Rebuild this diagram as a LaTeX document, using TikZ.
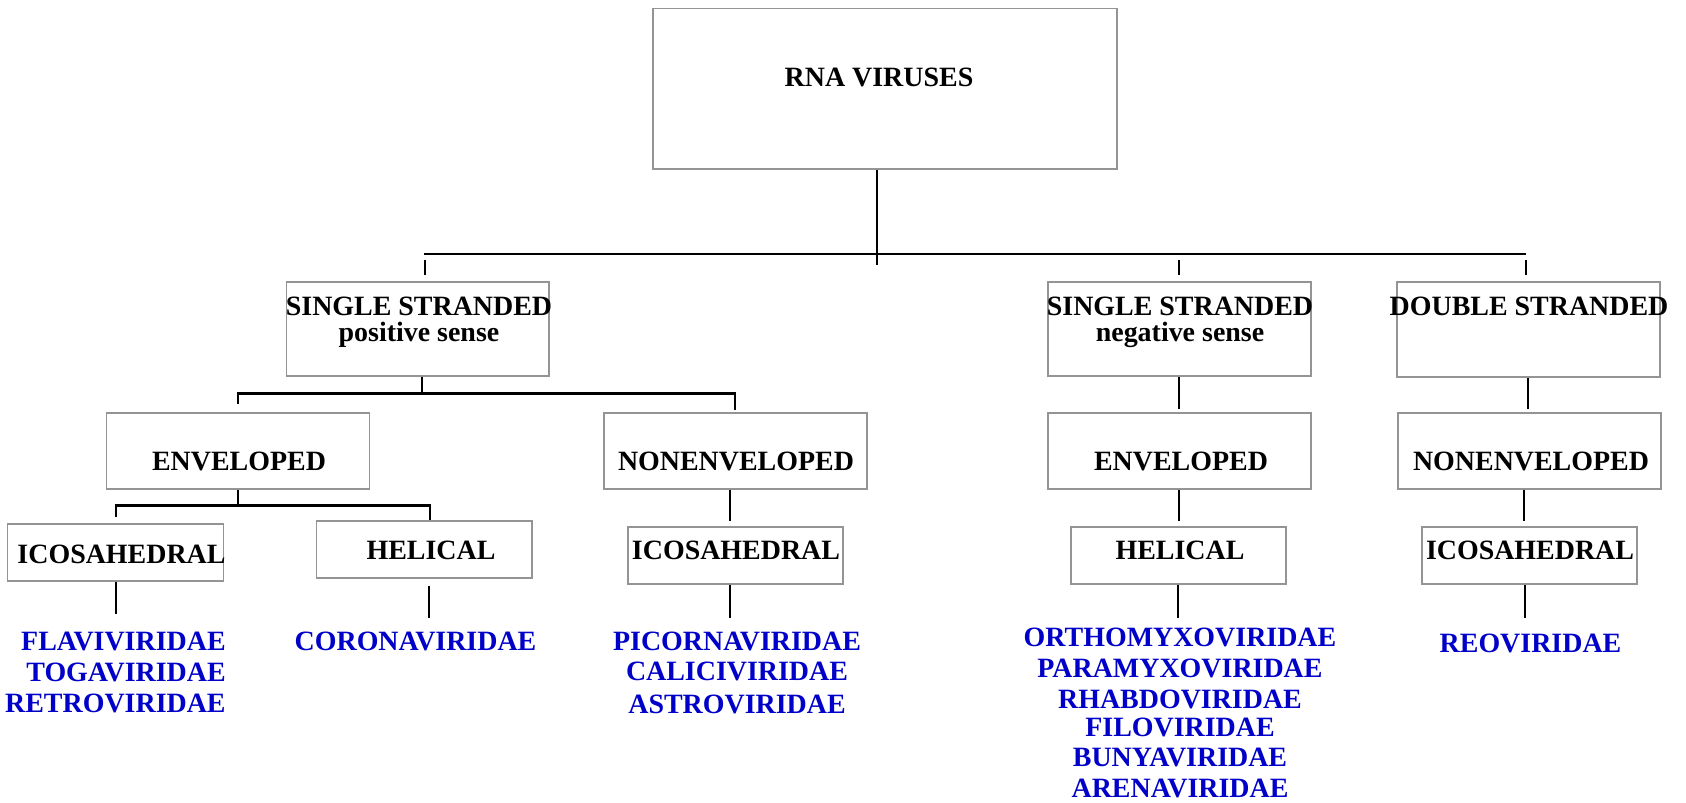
\documentclass[tikz,border=0pt]{standalone}
\usepackage{fontspec}
\setmainfont{Liberation Serif}
\usetikzlibrary{positioning}
\definecolor{famblue}{RGB}{0,0,200}
\tikzset{
  box/.style={draw=black!42, line width=0.85pt, anchor=north west, inner sep=0pt,
    minimum width=#1},
  box/.default=5.26cm,
  link/.style={line width=1.15pt},
  lbl/.style={anchor=north, inner sep=0pt, align=center,
    font=\fontsize{15.9pt}{14.8pt}\selectfont\bfseries},
  fam/.style={lbl, text=famblue, font=\fontsize{15.9pt}{17.6pt}\selectfont\bfseries},
}

\begin{document}
\begin{tikzpicture}
\useasboundingbox (0,0) rectangle (33.72,-16.04);

% ── RNA viruses ─────────────────────────────────────────────
\node[box=9.28cm, minimum height=3.2cm] (top) at (13.04,-0.16) {};
\node[lbl] (ttop) at (17.58,-1.36) {RNA VIRUSES};

% ── genome ──────────────────────────────────────────────────
\node[box=5.24cm, minimum height=1.88cm] (ssp) at (5.72,-5.62) {};
\node[lbl] (tssp) at (8.38,-5.94) {SINGLE STRANDED\\positive sense};
\node[box, minimum height=1.88cm] (ssn) at (20.94,-5.62) {};
\node[lbl] (tssn) at (23.6,-5.94) {SINGLE STRANDED\\negative sense};
\node[box, minimum height=1.9cm] (ds) at (27.92,-5.62) {};
\node[lbl] (tds) at (30.58,-5.94) {DOUBLE STRANDED};

% ── envelope ────────────────────────────────────────────────
\node[box, minimum height=1.52cm] (env1) at (2.12,-8.24) {};
\node[lbl] (tenv1) at (4.78,-9.04) {ENVELOPED};
\node[box, minimum height=1.52cm] (nonenv1) at (12.06,-8.24) {};
\node[lbl] (tnonenv1) at (14.72,-9.04) {NONENVELOPED};
\node[box, minimum height=1.52cm] (env2) at (20.94,-8.24) {};
\node[lbl] (tenv2) at (23.62,-9.04) {ENVELOPED};
\node[box, minimum height=1.52cm] (nonenv2) at (27.94,-8.24) {};
\node[lbl] (tnonenv2) at (30.62,-9.04) {NONENVELOPED};

% ── capsid ──────────────────────────────────────────────────
\node[box=4.32cm, minimum height=1.14cm] (ico1) at (0.14,-10.46) {};
\node[lbl] (tico1) at (2.43,-10.9) {ICOSAHEDRAL};
\node[box=4.3cm, minimum height=1.14cm] (hel1) at (6.32,-10.4) {};
\node[lbl] (thel1) at (8.62,-10.82) {HELICAL};
\node[box=4.3cm, minimum height=1.14cm] (ico2) at (12.54,-10.52) {};
\node[lbl] (tico2) at (14.72,-10.82) {ICOSAHEDRAL};
\node[box=4.3cm, minimum height=1.14cm] (hel2) at (21.4,-10.52) {};
\node[lbl] (thel2) at (23.6,-10.82) {HELICAL};
\node[box=4.3cm, minimum height=1.14cm] (ico3) at (28.42,-10.52) {};
\node[lbl] (tico3) at (30.6,-10.82) {ICOSAHEDRAL};

% ── families ────────────────────────────────────────────────
\node[fam, anchor=north east, align=right] (flav) at (4.52,-12.64) {FLAVIVIRIDAE\\TOGAVIRIDAE\\RETROVIRIDAE};
\node[fam] (corona) at (8.31,-12.64) {CORONAVIRIDAE};
\node[fam] (picorna) at (14.74,-12.64) {PICORNAVIRIDAE\\[-0.02cm]CALICIVIRIDAE\\[0.04cm]ASTROVIRIDAE};
\node[fam] (ortho) at (23.6,-12.56) {ORTHOMYXOVIRIDAE\\PARAMYXOVIRIDAE\\RHABDOVIRIDAE\\[-0.06cm]FILOVIRIDAE\\[-0.02cm]BUNYAVIRIDAE\\ARENAVIRIDAE};
\node[fam] (reo) at (30.61,-12.68) {REOVIRIDAE};

% ── tree ────────────────────────────────────────────────────
\draw[link] ([xshift=-1.6mm]top.south) -- ++(0,-1.9);
\draw[link] ([xshift=1.2mm, yshift=5.4mm]ssp.north) -- ([xshift=-0.5mm, yshift=5.4mm]ds.north);
\draw[link] ([xshift=1.4mm, yshift=1.2mm]ssp.north) -- ++(0,0.3);
\draw[link] ([yshift=1.2mm]ssn.north) -- ++(0,0.3);
\draw[link] ([xshift=-0.5mm, yshift=1.2mm]ds.north) -- ++(0,0.3);

\draw[link] ([xshift=0.8mm]ssp.south) -- ++(0,-0.34) coordinate (j1);
\draw[link] ([yshift=1.6mm]env1.north) |- (j1) -| ([yshift=0.4mm]nonenv1.north);
\draw[link] (env1.south) -- ++(0,-0.32) coordinate (j2);
\draw[link] ([yshift=1.2mm]ico1.north) |- (j2) -| ([xshift=1.1mm]hel1.north);
\draw[link] ([xshift=-1.1mm]nonenv1.south) -- ++(0,-0.62);

\draw[link] (ico1.south) -- ++(0,-0.64);
\draw[link] ([xshift=0.9mm, yshift=-1.4mm]hel1.south) -- ++(0,-0.64);
\draw[link] ([xshift=-1.1mm]ico2.south) -- ++(0,-0.66);

\draw[link] (ssn.south) -- ++(0,-0.64);
\draw[link] (env2.south) -- ++(0,-0.62);
\draw[link] (hel2.south) -- ++(0,-0.66);
\draw[link] (ds.south) -- ++(0,-0.62);
\draw[link] ([xshift=-1.1mm]nonenv2.south) -- ++(0,-0.62);
\draw[link] ([xshift=-0.9mm]ico3.south) -- ++(0,-0.66);

\end{tikzpicture}
\end{document}
